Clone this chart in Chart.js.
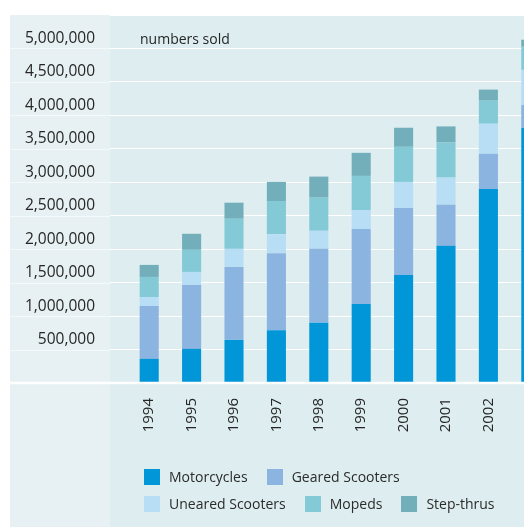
<!DOCTYPE html>
<html>
<head>
<meta charset="utf-8">
<script src="https://cdn.jsdelivr.net/npm/chart.js@4"></script>
<style>
  html, body { margin: 0; padding: 0; background: #fff; overflow: hidden; }
  #wrap { position: relative; width: 552px; height: 527px; }
  #legend { position: absolute; left: 144px; top: 463px; font-family: "Open Sans", sans-serif; font-size: 14px; color: #2b2b2b; }
  .lg-row { display: flex; gap: 19px; height: 27px; align-items: center; }
  .lg-item { display: flex; align-items: center; gap: 9px; }
  .lg-box { width: 16px; height: 16px; }
</style>
</head>
<body>
<div id="wrap">
  <canvas id="c" width="552" height="527"></canvas>
  <div id="legend"></div>
</div>
<script>
// ===== Two-wheeler sales by type, stacked =====
const years = ['1994', '1995', '1996', '1997', '1998', '1999', '2000', '2001', '2002', '2003'];
const motorcycles = [360000, 510000, 645000, 790000, 900000, 1180000, 1615000, 2050000, 2900000, 3810000];
const gearedScooters = [790000, 955000, 1090000, 1150000, 1105000, 1120000, 1000000, 615000, 525000, 345000];
const unearedScooters = [135000, 195000, 270000, 285000, 270000, 285000, 390000, 405000, 450000, 525000];
const mopeds = [300000, 330000, 450000, 495000, 495000, 510000, 525000, 525000, 345000, 345000];
const stepThrus = [180000, 240000, 240000, 285000, 315000, 345000, 285000, 240000, 165000, 105000];
const yTicks = [0, 500000, 1000000, 1500000, 2000000, 2500000, 3000000, 3500000, 4000000, 4500000, 5000000, 5500000];

const seriesNames = ['Motorcycles', 'Geared Scooters', 'Uneared Scooters', 'Mopeds', 'Step-thrus'];
const seriesColors = ['#0096d8', '#8cb4e0', '#b8def5', '#84cad6', '#73afba'];
const seriesData = [motorcycles, gearedScooters, unearedScooters, mopeds, stepThrus];

const TEXT = '#262626';
const FONT = '"Open Sans", sans-serif';

// scales should not push the plot area around for overhanging labels
const noPad = s => { s.paddingTop = 0; s.paddingBottom = 0; s.paddingLeft = 0; s.paddingRight = 0; };

// panel backgrounds + faint grid in the label column
const panelBg = {
    id: 'panelBg',
    beforeDraw(chart) {
        const { ctx, chartArea } = chart;
        const y = chart.scales.y;
        ctx.save();
        ctx.fillStyle = '#fff';
        ctx.fillRect(0, 0, chart.width, chart.height);
        ctx.fillStyle = '#e7f1f3';
        ctx.fillRect(10, chartArea.top, 100, chart.height - chartArea.top);
        ctx.fillStyle = '#ddedf0';
        ctx.fillRect(110, chartArea.top, chart.width - 110, chart.height - chartArea.top);
        ctx.strokeStyle = 'rgba(255,255,255,0.55)';
        ctx.lineWidth = 1;
        yTicks.forEach(v => {
            if (v === 0 || v === 5500000) return;
            const p = Math.round(y.getPixelForValue(v)) + 0.5;
            ctx.beginPath(); ctx.moveTo(10, p); ctx.lineTo(110, p); ctx.stroke();
        });
        ctx.restore();
    },
    afterDraw(chart) {
        const { ctx, chartArea } = chart;
        const y0 = chart.scales.y.getPixelForValue(0);
        ctx.save();
        ctx.strokeStyle = '#fff';
        ctx.lineWidth = 2.5;
        ctx.beginPath(); ctx.moveTo(10, y0); ctx.lineTo(chart.width, y0); ctx.stroke();
        ctx.fillStyle = TEXT;
        ctx.font = '14px ' + FONT;
        ctx.textBaseline = 'middle';
        ctx.fillText('numbers sold', 140, chartArea.top + 25);
        ctx.restore();
    }
};

new Chart(document.getElementById('c'), {
    type: 'bar',
    data: {
        labels: years,
        datasets: seriesNames.map((n, i) => ({
            label: n, data: seriesData[i], backgroundColor: seriesColors[i],
            borderWidth: 0, barPercentage: 0.45, categoryPercentage: 1
        }))
    },
    options: {
        responsive: false, animation: false, events: [],
        layout: { autoPadding: false, padding: { top: 15, left: 0, right: 0, bottom: 0 } },
        plugins: { legend: { display: false }, tooltip: { enabled: false } },
        scales: {
            x: {
                stacked: true,
                grid: { display: false, drawTicks: false },
                border: { display: false },
                ticks: { color: TEXT, font: { family: FONT, size: 15 }, minRotation: 90, maxRotation: 90, padding: 15 },
                afterFit: s => { s.height = 144; noPad(s); }
            },
            y: {
                stacked: true, min: 0, max: 5500000,
                afterBuildTicks: s => { s.ticks = yTicks.map(v => ({ value: v })); },
                grid: { color: '#ffffff', lineWidth: 1, drawTicks: true, tickLength: 18 },
                border: { display: false },
                ticks: {
                    color: TEXT, font: { family: FONT, size: 15.5 }, padding: 15, labelOffset: -10,
                    callback: v => (v === 0 || v === 5500000) ? '' : v.toLocaleString('en-US')
                },
                afterFit: s => { s.width = 128; noPad(s); }
            }
        }
    },
    plugins: [panelBg]
});

// legend: two rows as in the source
const legendRows = [[0, 1], [2, 3, 4]];
document.getElementById('legend').innerHTML = legendRows.map(r =>
    `<div class="lg-row">${r.map(i => `<div class="lg-item"><div class="lg-box" style="background:${seriesColors[i]}"></div>${seriesNames[i]}</div>`).join('')}</div>`
).join('');
</script>
</body>
</html>
